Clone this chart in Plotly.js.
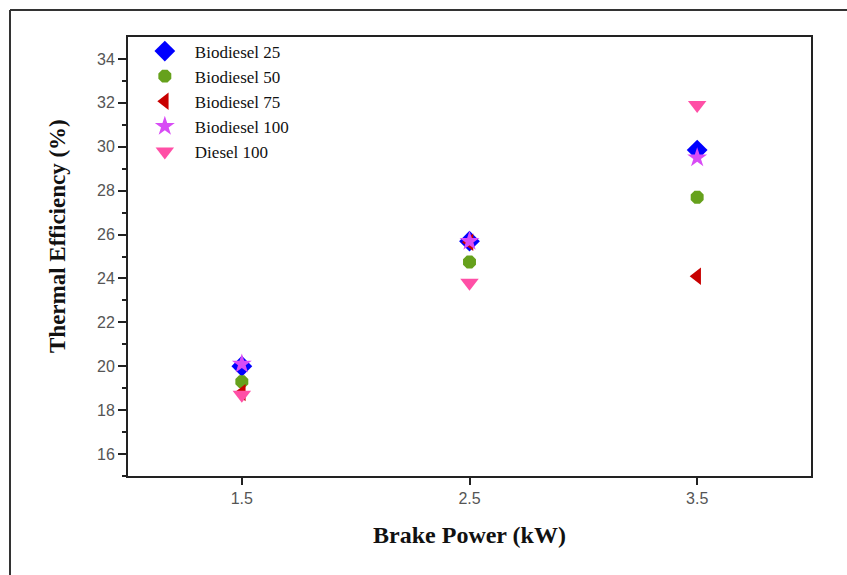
<!DOCTYPE html>
<html>
<head>
<meta charset="utf-8">
<script src="https://cdn.plot.ly/plotly-3.0.1.min.js"></script>
<style>html,body{margin:0;padding:0;background:#fff;}#chart{width:847px;height:575px;}</style>
</head>
<body>
<div id="chart"></div>
<script>
const brakePower = [1.5, 2.5, 3.5];
const biodiesel25 = [20.0, 25.7, 29.85];
const biodiesel50 = [19.3, 24.75, 27.7];
const biodiesel75 = [18.8, 25.65, 24.1];
const biodiesel100 = [20.1, 25.7, 29.5];
const diesel100 = [18.7, 23.8, 31.9];
const seriesNames = ["Biodiesel 25", "Biodiesel 50", "Biodiesel 75", "Biodiesel 100", "Diesel 100"];
const yTicks = [16, 18, 20, 22, 24, 26, 28, 30, 32, 34];
const yMinorTicks = [15, 17, 19, 21, 23, 25, 27, 29, 31, 33];
const xTicks = [1.5, 2.5, 3.5];
const yTitle = 'Thermal Efficiency (%)';
const xTitle = 'Brake Power (kW)';

const styles = [
  {symbol: 'diamond', color: '#0000ff', size: 16},
  {symbol: 'octagon', color: '#66a11c', size: 14},
  {symbol: 'triangle-left', color: '#c80000', size: 15},
  {symbol: 'star', color: '#d84cf5', size: 15},
  {symbol: 'triangle-down', color: '#ff4fa6', size: 16}
];
const allY = [biodiesel25, biodiesel50, biodiesel75, biodiesel100, diesel100];
const traces = allY.map((ys, i) => ({
  type: 'scatter', mode: 'markers', name: seriesNames[i],
  x: brakePower, y: ys,
  marker: {symbol: styles[i].symbol, color: styles[i].color, size: styles[i].size, line: {width: 0}}
}));

const L = 128, R = 36, T = 37, B = 99, W = 847, H = 575;
const pw = W - L - R, ph = H - T - B;
const px = v => (v - L) / pw;
const py = v => 1 - (v - T) / ph;

const layout = {
  width: W, height: H,
  margin: {l: L, r: R, t: T, b: B},
  paper_bgcolor: '#fff', plot_bgcolor: '#fff',
  showlegend: true,
  legend: {x: 0.01, y: 1.008, xanchor: 'left', yanchor: 'top', bgcolor: 'rgba(0,0,0,0)',
    font: {family: 'Liberation Serif, Times New Roman, serif', size: 17, color: '#111'},
    itemwidth: 50, tracegroupgap: 0, itemsizing: 'trace'},
  xaxis: {range: [1, 4], tickvals: xTicks, ticktext: xTicks.map(v => v.toFixed(1)),
    ticks: 'outside', ticklen: 7, tickwidth: 2, tickcolor: '#222',
    showline: true, linewidth: 2, linecolor: '#222', mirror: true,
    showgrid: false, zeroline: false,
    tickfont: {family: 'Liberation Sans, Arial, sans-serif', size: 16, color: '#555'},
    title: {text: '<b>' + xTitle + '</b>', standoff: 20,
      font: {family: 'Liberation Serif, Times New Roman, serif', size: 24, color: '#111'}}},
  yaxis: {range: [15, 35], tickvals: yTicks,
    ticks: 'outside', ticklen: 8, tickwidth: 2, tickcolor: '#222',
    minor: {tickvals: yMinorTicks, ticks: 'outside', ticklen: 4, tickwidth: 2, tickcolor: '#222', showgrid: false},
    showline: true, linewidth: 2, linecolor: '#222', mirror: true,
    showgrid: false, zeroline: false,
    tickfont: {family: 'Liberation Sans, Arial, sans-serif', size: 16, color: '#555'}},
  annotations: [
    {text: '<b>' + yTitle + '</b>', xref: 'paper', yref: 'paper', x: px(57), y: py(236),
     xanchor: 'center', yanchor: 'middle', textangle: -90, showarrow: false,
     font: {family: 'Liberation Serif, Times New Roman, serif', size: 23, color: '#111'}}
  ],
  shapes: [
    {type: 'line', xref: 'paper', yref: 'paper', x0: px(10), x1: px(10), y0: py(10), y1: py(575), line: {color: '#333', width: 2}},
    {type: 'line', xref: 'paper', yref: 'paper', x0: px(10), x1: px(847), y0: py(10), y1: py(10), line: {color: '#333', width: 2}}
  ]
};
Plotly.newPlot('chart', traces, layout, {displayModeBar: false, staticPlot: true});
</script>
</body>
</html>
